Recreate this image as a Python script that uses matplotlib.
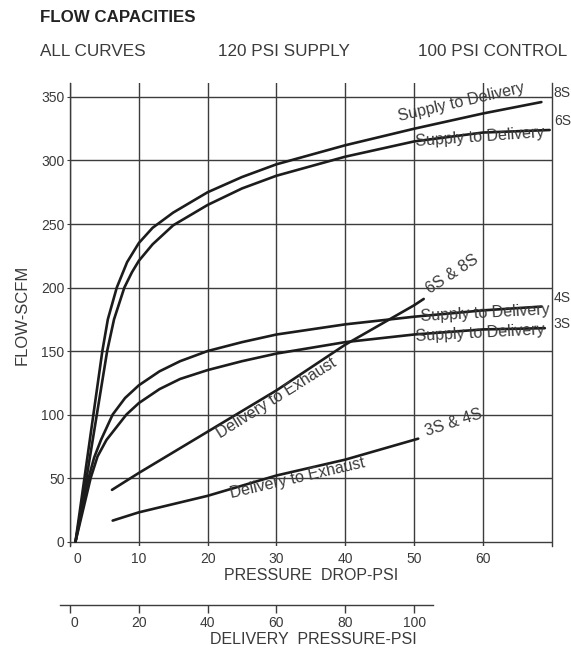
import matplotlib
matplotlib.use('Agg')
import matplotlib.pyplot as plt
from matplotlib.transforms import ScaledTranslation

plt.rcParams['font.family'] = ['Liberation Sans', 'DejaVu Sans']

# pressure drop (psi) vs flow (scfm)
s8_x = [0.8, 2.1, 3.4, 4.7, 5.5, 6.8, 8.3, 10, 12, 15, 20, 25, 30, 40, 50, 60, 68.5]
s8_y = [0, 50, 100, 150, 175, 200, 220, 235, 247, 259, 275, 287, 297, 312, 325, 337, 346]
s6_x = [0.8, 2.4, 3.9, 5.4, 6.4, 7.9, 9.0, 10, 12, 15, 20, 25, 30, 40, 50, 60, 69.7]
s6_y = [0, 50, 100, 150, 175, 200, 212, 221, 234, 249, 265, 278, 288, 303, 315, 322, 324]
s4_x = [0.8, 2.7, 3.5, 4.5, 6.2, 8, 10, 13, 16, 20, 25, 30, 40, 50, 60, 68.5]
s4_y = [0, 50, 66, 80, 100, 113, 123, 134, 142, 150, 157, 163, 171, 177, 182, 185]
s3_x = [0.8, 3.0, 4.0, 5.3, 8.2, 10, 13, 16, 20, 25, 30, 40, 50, 60, 69]
s3_y = [0, 50, 67, 80, 100, 109, 120, 128, 135, 142, 148, 157, 163, 167, 168]
ex68_x = [6.1, 10, 20, 30, 40, 50, 51.4]
ex68_y = [40.7, 54, 86.5, 119, 155, 186, 191]
ex34_x = [6.2, 10, 20, 30, 40, 50.6]
ex34_y = [16.5, 23, 36, 52, 64.5, 81]

drop_ticks = [0, 10, 20, 30, 40, 50, 60]
flow_ticks = [0, 50, 100, 150, 200, 250, 300, 350]
delivery_ticks = [0, 20, 40, 60, 80, 100]

ink = '#1c1c1c'
txt = '#3a3a3a'

fig = plt.figure(figsize=(5.71, 6.48), dpi=100)
ax = fig.add_axes([0.1226, 0.1574, 0.8436, 0.7145])

for xs, ys in [(s8_x, s8_y), (s6_x, s6_y), (s4_x, s4_y), (s3_x, s3_y),
               (ex68_x, ex68_y), (ex34_x, ex34_y)]:
    ax.plot(xs, ys, color=ink, lw=1.9, solid_capstyle='round',
            solid_joinstyle='round', zorder=3)

ax.set_xlim(0, 70)
ax.set_ylim(-3.5, 361)
ax.set_xticks(drop_ticks)
ax.set_yticks(flow_ticks)
ax.grid(True, color='#3c3c3c', lw=1.0)
ax.set_axisbelow(True)
for side in ['top', 'bottom']:
    ax.spines[side].set_visible(False)
for side in ['left', 'right']:
    ax.spines[side].set_color('#3c3c3c')
    ax.spines[side].set_linewidth(1.0)
ax.tick_params(axis='x', length=0, pad=4, labelsize=10, labelcolor=txt)
ax.tick_params(axis='y', length=2, pad=2, labelsize=10, labelcolor=txt, color='#3c3c3c')
ax.set_xlabel('PRESSURE  DROP-PSI', fontsize=11.5, color=txt, labelpad=2)
ax.set_ylabel('FLOW-SCFM', fontsize=12, color=txt, labelpad=8)

t0 = ax.xaxis.get_major_ticks()[0].label1
t0.set_transform(t0.get_transform() + ScaledTranslation(5 / 72, 0, fig.dpi_scale_trans))

# curve labels
notes = [
    ('Supply to Delivery', 56.8, 346.2, 13),
    ('Supply to Delivery', 59.6, 318.7, 4),
    ('Supply to Delivery', 60.3, 180.0, 3),
    ('Supply to Delivery', 59.6, 164.0, 3),
    ('6S & 8S', 55.6, 210.6, 33),
    ('Delivery to Exhaust', 30.0, 113.1, 32),
    ('Delivery to Exhaust', 33.1, 50.2, 13),
    ('3S & 4S', 55.8, 93.9, 18),
]
for s, x, y, r in notes:
    ax.text(x, y, s, rotation=r, ha='center', va='center', fontsize=11.5,
            color=txt, rotation_mode='anchor', zorder=4)

for s, y in [('8S', 353), ('6S', 330.7), ('4S', 191.9), ('3S', 171.2)]:
    ax.text(70.3, y, s, ha='left', va='center', fontsize=10, color=txt)

# second scale: delivery pressure
ax2 = fig.add_axes([0.1051, 0.0664, 0.6532, 0.0001])
ax2.set_xlim(-2.9, 105.5)
ax2.set_xticks(delivery_ticks)
ax2.set_yticks([])
for side in ['top', 'left', 'right']:
    ax2.spines[side].set_visible(False)
ax2.spines['bottom'].set_color('#3c3c3c')
ax2.spines['bottom'].set_linewidth(1.0)
ax2.tick_params(axis='x', length=6, width=1.0, pad=2, labelsize=10,
                labelcolor=txt, color='#3c3c3c')
d0 = ax2.xaxis.get_major_ticks()[0].label1
d0.set_transform(d0.get_transform() + ScaledTranslation(3 / 72, 0, fig.dpi_scale_trans))

fig.text(313.5 / 571, 1 - 640 / 648, 'DELIVERY  PRESSURE-PSI', ha='center',
         va='center', fontsize=11.5, color=txt)

fig.text(40 / 571, 1 - 17.5 / 648, 'FLOW CAPACITIES', ha='left', va='center',
         fontsize=12.2, fontweight='bold', color='#222222')
fig.text(40 / 571, 1 - 52 / 648, 'ALL CURVES', ha='left', va='center',
         fontsize=12.3, color=txt)
fig.text(218 / 571, 1 - 52 / 648, '120 PSI SUPPLY', ha='left', va='center',
         fontsize=12.3, color=txt)
fig.text(567 / 571, 1 - 52 / 648, '100 PSI CONTROL', ha='right', va='center',
         fontsize=12.3, color=txt)

fig.savefig('out.png', dpi=100)
